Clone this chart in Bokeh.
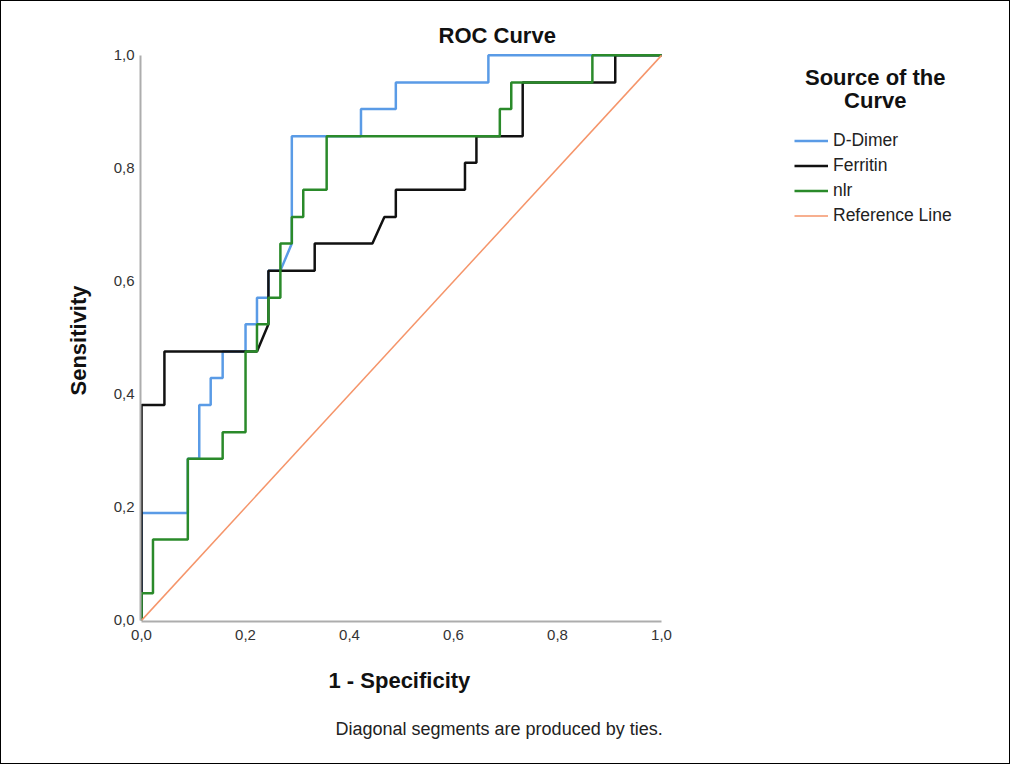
from bokeh.plotting import figure
from bokeh.models import (Label, Legend, LegendItem, CustomJSTickFormatter,
                          FixedTicker, Range1d, Title)
from bokeh.embed import file_html
from bokeh.resources import INLINE

# ---- data (1 - specificity, sensitivity) ----
ddimer_fpr = [0, 0, 0.089, 0.089, 0.111, 0.111, 0.133, 0.133, 0.156, 0.156,
              0.2, 0.2, 0.222, 0.222, 0.244, 0.244, 0.267, 0.289, 0.289,
              0.422, 0.422, 0.489, 0.489, 0.667, 0.667, 1.0]
ddimer_sens = [0, 0.190, 0.190, 0.286, 0.286, 0.381, 0.381, 0.429, 0.429, 0.476,
               0.476, 0.524, 0.524, 0.571, 0.571, 0.619, 0.619, 0.667, 0.857,
               0.857, 0.905, 0.905, 0.952, 0.952, 1.0, 1.0]

ferritin_fpr = [0, 0, 0.044, 0.044, 0.222, 0.244, 0.244, 0.333, 0.333, 0.444,
                0.467, 0.489, 0.489, 0.622, 0.622, 0.644, 0.644, 0.733, 0.733,
                0.911, 0.911, 1.0]
ferritin_sens = [0, 0.381, 0.381, 0.476, 0.476, 0.524, 0.619, 0.619, 0.667, 0.667,
                 0.714, 0.714, 0.762, 0.762, 0.810, 0.810, 0.857, 0.857, 0.952,
                 0.952, 1.0, 1.0]

nlr_fpr = [0, 0, 0.022, 0.022, 0.089, 0.089, 0.156, 0.156, 0.2, 0.2, 0.222,
           0.222, 0.244, 0.244, 0.267, 0.267, 0.289, 0.289, 0.311, 0.311, 0.356,
           0.356, 0.689, 0.689, 0.711, 0.711, 0.867, 0.867, 1.0]
nlr_sens = [0, 0.048, 0.048, 0.143, 0.143, 0.286, 0.286, 0.333, 0.333, 0.476,
            0.476, 0.524, 0.524, 0.571, 0.571, 0.667, 0.667, 0.714, 0.714, 0.762,
            0.762, 0.857, 0.857, 0.905, 0.905, 0.952, 0.952, 1.0, 1.0]

ref_fpr = [0, 1.0]
ref_sens = [0, 1.0]

series_names = ["D-Dimer", "Ferritin", "nlr", "Reference Line"]
series_colors = ["#5a9be6", "#111111", "#2a8a2a", "#f5956a"]
series_widths = [2.5, 2.5, 2.5, 1.5]
tick_values = [0.0, 0.2, 0.4, 0.6, 0.8, 1.0]

FONT = "Liberation Sans"

# frame spans from the axes to the top/right edges of the figure;
# 0..1 occupies 520 px horizontally and 565 px vertically
FW, FH = 869, 620
p = figure(frame_width=FW, frame_height=FH, title=None,
           min_border_left=139, min_border_right=0,
           min_border_top=0, min_border_bottom=142,
           x_range=Range1d(-0.002, -0.002 + FW / 520),
           y_range=Range1d(-0.002, -0.002 + FH / 565),
           output_backend="svg", toolbar_location=None,
           styles={"border": "1px solid #000", "box-sizing": "border-box"})

p.grid.visible = False
p.outline_line_color = None
p.background_fill_color = "white"
p.border_fill_color = "white"

fmt = CustomJSTickFormatter(code="return tick.toFixed(1).replace('.', ',');")
for ax in (p.xaxis[0], p.yaxis[0]):
    ax.ticker = FixedTicker(ticks=tick_values)
    ax.formatter = fmt
    ax.bounds = (0, 1)
    ax.major_tick_line_color = None
    ax.minor_tick_line_color = None
    ax.major_tick_out = 0
    ax.major_tick_in = 0
    ax.axis_line_color = "#adadad"
    ax.axis_line_width = 2
    ax.major_label_text_font = FONT
    ax.major_label_text_font_size = "15px"
    ax.major_label_text_color = "#333333"

p.xaxis[0].major_label_standoff = 8
p.yaxis[0].major_label_standoff = 6

xs = [ddimer_fpr, ferritin_fpr, nlr_fpr, ref_fpr]
ys = [ddimer_sens, ferritin_sens, nlr_sens, ref_sens]
rs = [p.line(x, y, line_color=c, line_width=w)
      for x, y, c, w in zip(xs, ys, series_colors, series_widths)]

legend = Legend(items=[LegendItem(label=n, renderers=[r])
                       for n, r in zip(series_names, rs)],
                location=(654, 393), padding=0, margin=0, spacing=0,
                glyph_width=34, glyph_height=25, label_height=25,
                label_standoff=5, border_line_color=None,
                background_fill_alpha=0,
                label_text_font=FONT, label_text_font_size="17.5px",
                label_text_color="#222222")
p.add_layout(legend)

p.add_layout(Label(x=0.684, y=1.035, text="ROC Curve", text_align="center",
                   text_baseline="middle", text_font=FONT,
                   text_font_size="22px", text_font_style="bold",
                   text_color="#111111"))
for txt, yy in (("Source of the", 0.961), ("Curve", 0.920)):
    p.add_layout(Label(x=1.411, y=yy, text=txt, text_align="center",
                       text_baseline="middle", text_font=FONT,
                       text_font_size="22px", text_font_style="bold",
                       text_color="#111111"))

# axis titles (centred on the 0..1 part of each axis)
xlab = Title(text="1 - Specificity", align="left", offset=188, standoff=47,
             text_font=FONT, text_font_size="22px", text_font_style="bold",
             text_color="#111111")
p.add_layout(xlab, "below")
ylab = Title(text="Sensitivity", align="left", offset=226, standoff=39,
             text_font=FONT, text_font_size="22px", text_font_style="bold",
             text_color="#111111")
p.add_layout(ylab, "left")

foot = Title(text="Diagonal segments are produced by ties.", align="left",
             offset=195, standoff=0, text_font=FONT, text_font_size="18px",
             text_font_style="normal", text_color="#222222")
p.add_layout(foot, "below")

open("out.html", "w").write(file_html(p, INLINE))
